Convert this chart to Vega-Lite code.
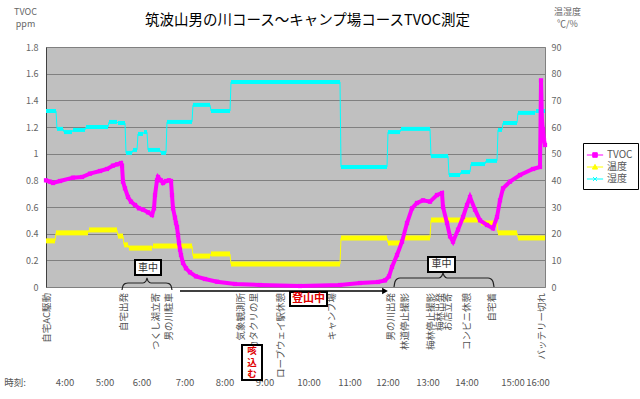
{
  "$schema": "https://vega.github.io/schema/vega-lite/v6.json",
  "width": 499,
  "height": 240,
  "autosize": {"type": "none"},
  "padding": {"left": 46, "top": 47, "right": 95, "bottom": 112},
  "background": "white",
  "title": {"text": "筑波山男の川コース～キャンプ場コースTVOC測定", "fontSize": 14.5, "fontWeight": "normal", "color": "#000000", "anchor": "middle", "dx": 12, "dy": 39, "offset": 18},
  "config": {
    "font": "Noto Sans CJK JP",
    "view": {"fill": "#C0C0C0", "stroke": "#808080", "strokeWidth": 1},
    "axis": {"labelOverlap": false, "labelBound": false, "labelFlush": false},
    "axisQuantitative": {"labelOverlap": false, "tickCount": 10},
    "axisY": {"labelOverlap": false, "labelBound": false, "labelFlush": false}
  },
  "datasets": {
    "tvoc": [
      {"x": 0, "v": 0.8}, {"x": 4, "v": 0.79}, {"x": 7, "v": 0.78}, {"x": 14, "v": 0.795}, {"x": 27, "v": 0.82},
      {"x": 36, "v": 0.825}, {"x": 44, "v": 0.85}, {"x": 54, "v": 0.87}, {"x": 61, "v": 0.885}, {"x": 67, "v": 0.91},
      {"x": 71, "v": 0.92}, {"x": 75, "v": 0.93}, {"x": 76, "v": 0.91}, {"x": 77, "v": 0.79}, {"x": 79, "v": 0.74},
      {"x": 82, "v": 0.675}, {"x": 85, "v": 0.64}, {"x": 89, "v": 0.615}, {"x": 93, "v": 0.59}, {"x": 97, "v": 0.58},
      {"x": 102, "v": 0.56}, {"x": 106, "v": 0.54}, {"x": 108, "v": 0.59}, {"x": 109, "v": 0.69}, {"x": 111, "v": 0.8},
      {"x": 112, "v": 0.825}, {"x": 115, "v": 0.8}, {"x": 117, "v": 0.78}, {"x": 120, "v": 0.795}, {"x": 123, "v": 0.8},
      {"x": 125, "v": 0.795}, {"x": 126, "v": 0.69}, {"x": 127, "v": 0.59}, {"x": 129, "v": 0.52}, {"x": 130, "v": 0.48},
      {"x": 131, "v": 0.45}, {"x": 132, "v": 0.39}, {"x": 133, "v": 0.33}, {"x": 134, "v": 0.28}, {"x": 135, "v": 0.24},
      {"x": 137, "v": 0.18}, {"x": 140, "v": 0.14}, {"x": 144, "v": 0.11}, {"x": 150, "v": 0.08}, {"x": 159, "v": 0.06},
      {"x": 171, "v": 0.04}, {"x": 189, "v": 0.0225}, {"x": 214, "v": 0.015}, {"x": 254, "v": 0.0075}, {"x": 294, "v": 0.015},
      {"x": 314, "v": 0.03}, {"x": 332, "v": 0.0375}, {"x": 339, "v": 0.05}, {"x": 343, "v": 0.08}, {"x": 346, "v": 0.15},
      {"x": 351, "v": 0.24}, {"x": 356, "v": 0.34}, {"x": 361, "v": 0.48}, {"x": 366, "v": 0.59}, {"x": 371, "v": 0.63},
      {"x": 377, "v": 0.65}, {"x": 384, "v": 0.64}, {"x": 391, "v": 0.69}, {"x": 396, "v": 0.705}, {"x": 397, "v": 0.6},
      {"x": 401, "v": 0.48}, {"x": 404, "v": 0.38}, {"x": 407, "v": 0.34}, {"x": 412, "v": 0.43}, {"x": 417, "v": 0.525},
      {"x": 421, "v": 0.615}, {"x": 424, "v": 0.675}, {"x": 429, "v": 0.58}, {"x": 434, "v": 0.5}, {"x": 441, "v": 0.465},
      {"x": 447, "v": 0.44}, {"x": 451, "v": 0.525}, {"x": 454, "v": 0.65}, {"x": 457, "v": 0.74}, {"x": 464, "v": 0.79},
      {"x": 474, "v": 0.84}, {"x": 487, "v": 0.885}, {"x": 494, "v": 0.9}, {"x": 495, "v": 1.55}, {"x": 496, "v": 1.24},
      {"x": 497, "v": 1.18}, {"x": 498, "v": 1.1}, {"x": 499, "v": 1.065}
    ],
    "hum": [
      {"x0": 0, "x1": 10, "v": 66}, {"x0": 11, "x1": 17, "v": 59.3}, {"x0": 18, "x1": 26, "v": 58.1},
      {"x0": 27, "x1": 39, "v": 58.9}, {"x0": 40, "x1": 62, "v": 60}, {"x0": 63, "x1": 71, "v": 61.9},
      {"x0": 72, "x1": 79, "v": 61.5}, {"x0": 80, "x1": 86, "v": 50.3}, {"x0": 87, "x1": 91, "v": 51.4},
      {"x0": 92, "x1": 97, "v": 57.4}, {"x0": 98, "x1": 101, "v": 58.1}, {"x0": 102, "x1": 114, "v": 51.4},
      {"x0": 115, "x1": 120, "v": 50.3}, {"x0": 121, "x1": 146, "v": 61.9}, {"x0": 147, "x1": 164, "v": 68.3},
      {"x0": 165, "x1": 184, "v": 66}, {"x0": 185, "x1": 294, "v": 76.9}, {"x0": 295, "x1": 341, "v": 45},
      {"x0": 342, "x1": 354, "v": 58.1}, {"x0": 355, "x1": 384, "v": 59.3}, {"x0": 385, "x1": 402, "v": 49.1},
      {"x0": 403, "x1": 414, "v": 42}, {"x0": 415, "x1": 424, "v": 43.1}, {"x0": 425, "x1": 439, "v": 46.1},
      {"x0": 440, "x1": 451, "v": 47.3}, {"x0": 452, "x1": 456, "v": 58.9}, {"x0": 457, "x1": 471, "v": 61.5},
      {"x0": 472, "x1": 489, "v": 65.3}, {"x0": 490, "x1": 499, "v": 66}
    ],
    "temp": [
      {"x0": 0, "x1": 9, "v": 17.3}, {"x0": 10, "x1": 42, "v": 20.3}, {"x0": 43, "x1": 71, "v": 21.4},
      {"x0": 72, "x1": 77, "v": 19.1}, {"x0": 78, "x1": 82, "v": 15.8}, {"x0": 83, "x1": 106, "v": 14.6},
      {"x0": 107, "x1": 146, "v": 15.4}, {"x0": 147, "x1": 164, "v": 11.6}, {"x0": 165, "x1": 184, "v": 12.4},
      {"x0": 185, "x1": 294, "v": 8.6}, {"x0": 295, "x1": 341, "v": 18.4}, {"x0": 342, "x1": 356, "v": 16.5},
      {"x0": 357, "x1": 384, "v": 18.4}, {"x0": 385, "x1": 434, "v": 25.1}, {"x0": 435, "x1": 451, "v": 24},
      {"x0": 452, "x1": 471, "v": 20.3}, {"x0": 472, "x1": 499, "v": 18.4}
    ],
    "events": [
      {"x": 1, "t": "自宅AC駆動"}, {"x": 78, "t": "自宅出発"}, {"x": 110, "t": "つくし湖立寄"}, {"x": 123, "t": "男の川駐車"},
      {"x": 195, "t": "気象観測所"}, {"x": 208, "t": "カタクリの里"}, {"x": 235, "t": "ロープウェイ駅休憩"}, {"x": 286, "t": "キャンプ場"},
      {"x": 345, "t": "男の川出発"}, {"x": 359, "t": "林道停止撮影"}, {"x": 385, "t": "梅林停止撮影"}, {"x": 394, "t": "梅林出発"},
      {"x": 402, "t": "お店立寄"}, {"x": 421, "t": "コンビニ休憩"}, {"x": 446, "t": "自宅着"}, {"x": 496, "t": "バッテリー切れ"}
    ],
    "times": [
      {"x": -31, "t": "時刻:"}, {"x": 19, "t": "4:00"}, {"x": 59, "t": "5:00"}, {"x": 96, "t": "6:00"}, {"x": 139, "t": "7:00"},
      {"x": 179, "t": "8:00"}, {"x": 219, "t": "9:00"}, {"x": 263, "t": "10:00"}, {"x": 304, "t": "11:00"},
      {"x": 342, "t": "12:00"}, {"x": 382, "t": "13:00"}, {"x": 421, "t": "14:00"}, {"x": 467, "t": "15:00"}, {"x": 492, "t": "16:00"}
    ],
    "braces": [
      {"b": 1, "x": 76, "y": -0.0225}, {"b": 1, "x": 77, "y": 0.01}, {"b": 1, "x": 79, "y": 0.025}, {"b": 1, "x": 82, "y": 0.03},
      {"b": 1, "x": 97, "y": 0.03}, {"b": 1, "x": 100, "y": 0.045}, {"b": 1, "x": 101, "y": 0.0675}, {"b": 1, "x": 102, "y": 0.045},
      {"b": 1, "x": 105, "y": 0.03}, {"b": 1, "x": 120, "y": 0.03}, {"b": 1, "x": 123, "y": 0.025}, {"b": 1, "x": 125, "y": 0.01},
      {"b": 1, "x": 126, "y": -0.0225},
      {"b": 2, "x": 348, "y": 0}, {"b": 2, "x": 349, "y": 0.04}, {"b": 2, "x": 351, "y": 0.06}, {"b": 2, "x": 354, "y": 0.0675},
      {"b": 2, "x": 393, "y": 0.0675}, {"b": 2, "x": 396, "y": 0.085}, {"b": 2, "x": 397, "y": 0.105}, {"b": 2, "x": 398, "y": 0.085},
      {"b": 2, "x": 401, "y": 0.0675}, {"b": 2, "x": 442, "y": 0.0675}, {"b": 2, "x": 445, "y": 0.06}, {"b": 2, "x": 447, "y": 0.04},
      {"b": 2, "x": 448, "y": 0}
    ],
    "boxes": [
      {"x0": 89, "x1": 115, "y0": 0.09, "y1": 0.2025},
      {"x0": 382, "x1": 409, "y0": 0.1125, "y1": 0.225},
      {"x0": 244, "x1": 281, "y0": -0.0375, "y1": -0.1425},
      {"x0": 196, "x1": 216, "y0": -0.435, "y1": -0.6975}
    ],
    "boxText": [
      {"x": 102, "y": 0.146, "t": "車中", "c": "car"},
      {"x": 395.5, "y": 0.169, "t": "車中", "c": "car"},
      {"x": 262.5, "y": -0.09, "t": "登山中", "c": "note"},
      {"x": 206, "y": -0.4455, "t": "咳\n込\nむ", "c": "tall"}
    ]
  },
  "layer": [
    {
      "layer": [
        {
          "data": {"name": "hum"},
          "transform": [{"fold": ["x0", "x1"], "as": ["k", "x"]}],
          "mark": {"type": "line", "color": "#00FFFF", "strokeWidth": 1},
          "encoding": {
            "x": {"field": "x", "type": "quantitative", "scale": {"domain": [0, 499], "nice": false, "zero": false}, "axis": null},
            "y": {"field": "v", "type": "quantitative", "scale": {"domain": [0, 90], "nice": false, "zero": false},
              "axis": {"orient": "right", "values": [0, 10, 20, 30, 40, 50, 60, 70, 80, 90], "tickCount": 10, "labelFontSize": 9, "labelColor": "#666666",
                "labelOverlap": false, "labelBound": false, "labelSeparation": 0,
                "ticks": false, "domain": false, "labelPadding": 6, "grid": true, "gridColor": "#808080", "gridWidth": 1,
                "title": ["温湿度", "℃/%"], "titleAngle": 0, "titleX": 22, "titleY": -40, "titleAlign": "center", "titleBaseline": "top",
                "titleFontSize": 9, "titleFontWeight": "normal", "titleColor": "#666666", "titleLineHeight": 12}}
          }
        },
        {
          "data": {"name": "hum"},
          "mark": {"type": "rule", "color": "#00FFFF", "strokeWidth": 4},
          "encoding": {
            "x": {"field": "x0", "type": "quantitative"},
            "x2": {"field": "x1"},
            "y": {"field": "v", "type": "quantitative"}
          }
        },
        {
          "data": {"name": "temp"},
          "transform": [{"fold": ["x0", "x1"], "as": ["k", "x"]}],
          "mark": {"type": "line", "color": "#FFFF00", "strokeWidth": 1},
          "encoding": {
            "x": {"field": "x", "type": "quantitative"},
            "y": {"field": "v", "type": "quantitative"}
          }
        },
        {
          "data": {"name": "temp"},
          "mark": {"type": "rule", "color": "#FFFF00", "strokeWidth": 5},
          "encoding": {
            "x": {"field": "x0", "type": "quantitative"},
            "x2": {"field": "x1"},
            "y": {"field": "v", "type": "quantitative"}
          }
        }
      ]
    },
    {
      "layer": [
        {
          "data": {"name": "tvoc"},
          "mark": {"type": "line", "color": "#FF00FF", "strokeWidth": 4},
          "encoding": {
            "x": {"field": "x", "type": "quantitative", "scale": {"domain": [0, 499], "nice": false, "zero": false}, "axis": null},
            "y": {"field": "v", "type": "quantitative", "scale": {"domain": [0, 1.8], "nice": false, "zero": false},
              "axis": {"orient": "left", "values": [0, 0.2, 0.4, 0.6, 0.8, 1, 1.2, 1.4, 1.6, 1.8], "tickCount": 10, "format": ".1~f", "labelFontSize": 9, "labelColor": "#666666",
                "labelOverlap": false, "labelBound": false, "labelSeparation": 0,
                "ticks": false, "domain": true, "domainColor": "#404040", "labelPadding": 8, "grid": false,
                "title": ["TVOC", "ppm"], "titleAngle": 0, "titleX": -21, "titleY": -40, "titleAlign": "center", "titleBaseline": "top",
                "titleFontSize": 9, "titleFontWeight": "normal", "titleColor": "#666666", "titleLineHeight": 12}}
          }
        },
        {
          "data": {"name": "tvoc"},
          "mark": {"type": "point", "shape": "square", "filled": true, "color": "#FF00FF", "size": 18, "opacity": 1},
          "encoding": {
            "x": {"field": "x", "type": "quantitative"},
            "y": {"field": "v", "type": "quantitative"}
          }
        },
        {
          "data": {"name": "braces"},
          "mark": {"type": "line", "color": "#222222", "strokeWidth": 1.2, "interpolate": "monotone"},
          "encoding": {
            "x": {"field": "x", "type": "quantitative"},
            "y": {"field": "y", "type": "quantitative"},
            "detail": {"field": "b"}
          }
        },
        {
          "data": {"values": [{"x0": 134, "x1": 337, "y": -0.03}]},
          "mark": {"type": "rule", "color": "#000000", "strokeWidth": 1.5},
          "encoding": {
            "x": {"field": "x0", "type": "quantitative"},
            "x2": {"field": "x1"},
            "y": {"field": "y", "type": "quantitative"}
          }
        },
        {
          "data": {"values": [{"x": 339, "y": -0.03}]},
          "mark": {"type": "point", "shape": "triangle-right", "filled": true, "color": "#000000", "size": 45, "opacity": 1},
          "encoding": {
            "x": {"field": "x", "type": "quantitative"},
            "y": {"field": "y", "type": "quantitative"}
          }
        },
        {
          "data": {"name": "events"},
          "mark": {"type": "text", "angle": 270, "align": "right", "baseline": "middle", "fontSize": 9.5, "color": "#555555"},
          "encoding": {
            "x": {"field": "x", "type": "quantitative"},
            "y": {"datum": -0.045},
            "text": {"field": "t"}
          }
        },
        {
          "data": {"name": "times"},
          "mark": {"type": "text", "align": "center", "baseline": "middle", "fontSize": 9.5, "color": "#555555"},
          "encoding": {
            "x": {"field": "x", "type": "quantitative"},
            "y": {"datum": -0.72},
            "text": {"field": "t"}
          }
        },
        {
          "data": {"name": "boxes"},
          "mark": {"type": "rect", "fill": "#FFFFFF", "stroke": "#000000", "strokeWidth": 2},
          "encoding": {
            "x": {"field": "x0", "type": "quantitative"},
            "x2": {"field": "x1"},
            "y": {"field": "y0", "type": "quantitative"},
            "y2": {"field": "y1"}
          }
        },
        {
          "data": {"name": "boxText"},
          "transform": [{"filter": "datum.c == 'car'"}],
          "mark": {"type": "text", "align": "center", "baseline": "middle", "fontSize": 10, "color": "#333333"},
          "encoding": {
            "x": {"field": "x", "type": "quantitative"},
            "y": {"field": "y", "type": "quantitative"},
            "text": {"field": "t"}
          }
        },
        {
          "data": {"name": "boxText"},
          "transform": [{"filter": "datum.c == 'note'"}],
          "mark": {"type": "text", "align": "center", "baseline": "middle", "fontSize": 11, "fontWeight": "bold", "color": "#E00000"},
          "encoding": {
            "x": {"field": "x", "type": "quantitative"},
            "y": {"field": "y", "type": "quantitative"},
            "text": {"field": "t"}
          }
        },
        {
          "data": {"name": "boxText"},
          "transform": [{"filter": "datum.c == 'tall'"}],
          "mark": {"type": "text", "align": "center", "baseline": "top", "fontSize": 9.5, "fontWeight": "bold", "color": "#E00000", "lineBreak": "\n", "lineHeight": 11.5},
          "encoding": {
            "x": {"field": "x", "type": "quantitative"},
            "y": {"field": "y", "type": "quantitative"},
            "text": {"field": "t"}
          }
        },
        {
          "data": {"values": [{"s": "TVOC"}, {"s": "温度"}, {"s": "湿度"}]},
          "mark": {"type": "point", "clip": true, "strokeWidth": 1, "opacity": 1},
          "encoding": {
            "x": {"datum": -50},
            "y": {"datum": 0.5},
            "fill": {"field": "s", "type": "nominal", "scale": {"domain": ["TVOC", "温度", "湿度"], "range": ["#FF00FF", "#FFFF00", "#00FFFF"]},
              "legend": {"title": null, "orient": "none", "legendX": 537, "legendY": 96, "strokeColor": "#000000", "fillColor": "#FFFFFF", "padding": 5,
                "labelFontSize": 10, "labelColor": "#555555", "labelLimit": 100, "symbolSize": 169, "symbolStrokeWidth": 1, "labelOffset": 5, "rowPadding": 0}},
            "stroke": {"field": "s", "type": "nominal", "scale": {"domain": ["TVOC", "温度", "湿度"], "range": ["#FF00FF", "#FFFF00", "#00FFFF"]},
              "legend": {"title": null, "orient": "none", "legendX": 537, "legendY": 96, "strokeColor": "#000000", "fillColor": "#FFFFFF", "padding": 5,
                "labelFontSize": 10, "labelColor": "#555555", "labelLimit": 100, "symbolSize": 169, "symbolStrokeWidth": 1, "labelOffset": 5, "rowPadding": 0}},
            "shape": {"field": "s", "type": "nominal", "scale": {"domain": ["TVOC", "温度", "湿度"],
              "range": ["M-1.25,0H1.25M-0.35,-0.35H0.35V0.35H-0.35Z", "M-1.25,0H1.25M0,-0.4L0.4,0.32H-0.4Z", "M-1.25,0H1.25M-0.3,-0.3L0.3,0.3M-0.3,0.3L0.3,-0.3"]},
              "legend": {"title": null, "orient": "none", "legendX": 537, "legendY": 96, "strokeColor": "#000000", "fillColor": "#FFFFFF", "padding": 5,
                "labelFontSize": 10, "labelColor": "#555555", "labelLimit": 100, "symbolSize": 169, "symbolStrokeWidth": 1, "labelOffset": 5, "rowPadding": 0}}
          }
        }
      ]
    }
  ],
  "resolve": {"scale": {"y": "independent"}}
}
